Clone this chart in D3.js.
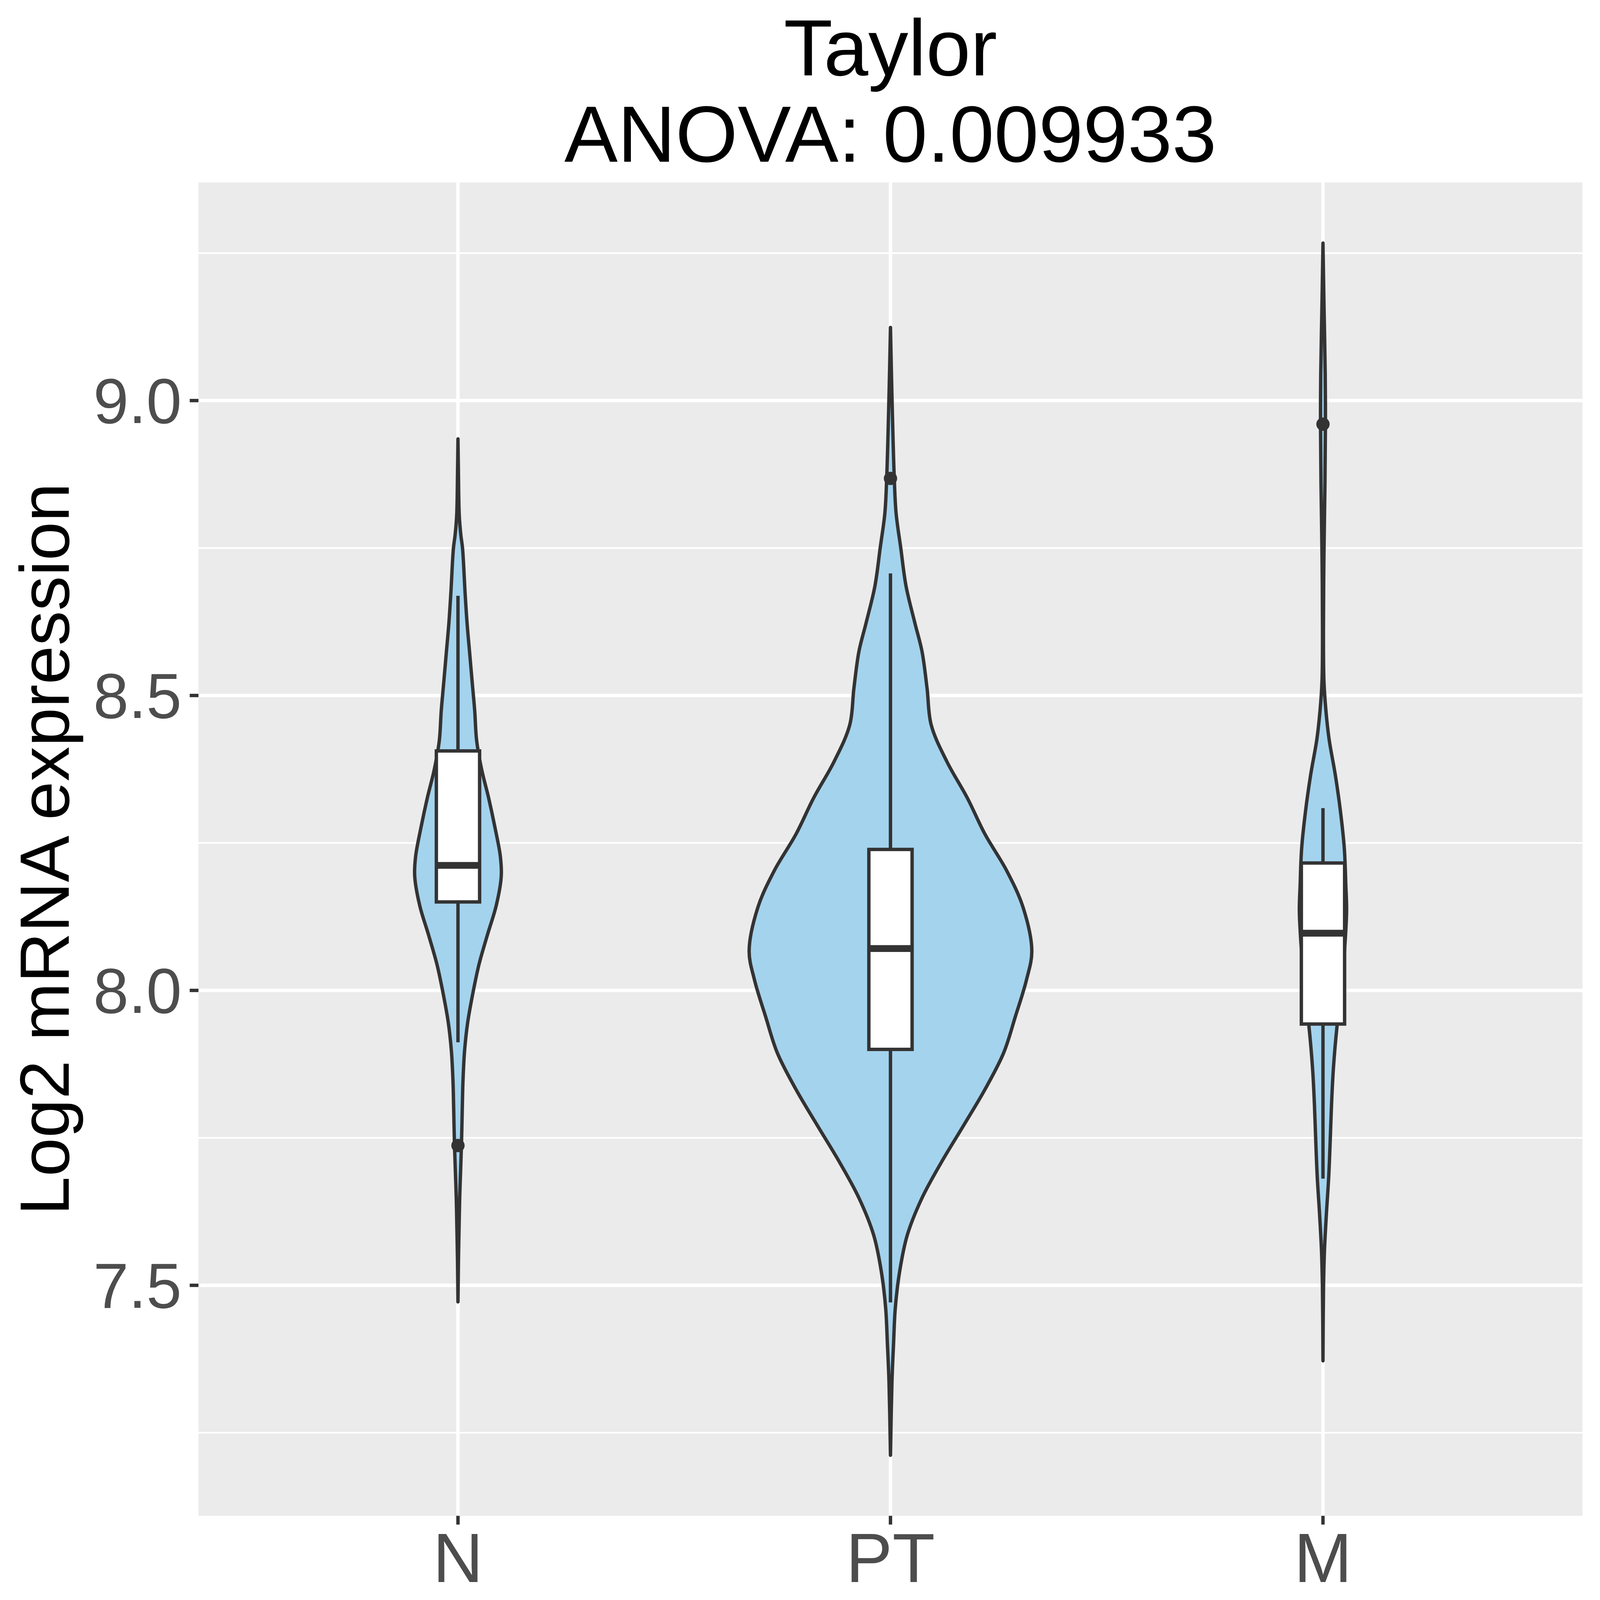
<!DOCTYPE html>
<html>
<head>
<meta charset="utf-8">
<script src="https://cdn.jsdelivr.net/npm/d3@7.9.0/dist/d3.min.js"></script>
<style>
  html, body { margin: 0; padding: 0; background: #fff; overflow: hidden; }
  svg { display: block; width: 100vw; height: 100vh; }
  text { font-family: "Liberation Sans", Arial, Helvetica, sans-serif; }
</style>
</head>
<body>
<svg id="chart" viewBox="0 0 4200 4200" preserveAspectRatio="xMidYMid meet"></svg>
<script>
// groups on the x axis
const categories = ['N', 'PT', 'M'];

// violin outlines: expression level and half width (in category units)
const nLevels  = [8.935, 8.88, 8.805, 8.771, 8.75, 8.672, 8.622, 8.573, 8.523, 8.474, 8.424, 8.375, 8.326, 8.276, 8.227, 8.193, 8.144, 8.094, 8.045, 8.0, 7.946, 7.897, 7.847, 7.798, 7.748, 7.699, 7.649, 7.6, 7.55, 7.472];
const nWidths  = [0, 0.0010, 0.0030, 0.0068, 0.0105, 0.0166, 0.0211, 0.0269, 0.0328, 0.0387, 0.0431, 0.0546, 0.0710, 0.0856, 0.0980, 0.1000, 0.0885, 0.0680, 0.0489, 0.0357, 0.0225, 0.0152, 0.0116, 0.0099, 0.0084, 0.0063, 0.0040, 0.0026, 0.0013, 0];
const ptLevels = [9.124, 9.006, 8.868, 8.809, 8.75, 8.685, 8.623, 8.574, 8.512, 8.45, 8.388, 8.326, 8.265, 8.203, 8.141, 8.067, 8.018, 7.956, 7.894, 7.832, 7.77, 7.708, 7.647, 7.585, 7.523, 7.461, 7.399, 7.338, 7.212];
const ptWidths = [0, 0.0035, 0.0088, 0.0130, 0.0238, 0.0361, 0.0564, 0.0731, 0.0846, 0.0942, 0.1304, 0.1779, 0.2184, 0.2687, 0.3065, 0.3268, 0.3145, 0.2889, 0.2616, 0.2184, 0.1682, 0.1172, 0.0722, 0.0388, 0.0211, 0.0111, 0.0070, 0.0035, 0];
const mLevels  = [9.267, 9.168, 9.044, 8.96, 8.859, 8.735, 8.612, 8.525, 8.476, 8.426, 8.365, 8.303, 8.241, 8.179, 8.135, 8.067, 8.005, 7.943, 7.869, 7.807, 7.745, 7.683, 7.621, 7.56, 7.498, 7.372];
const mWidths  = [0, 0.0022, 0.0052, 0.0057, 0.0046, 0.0022, 0.0011, 0.0022, 0.0066, 0.0141, 0.0286, 0.0405, 0.0493, 0.0528, 0.0546, 0.0498, 0.0432, 0.0330, 0.0242, 0.0198, 0.0167, 0.0132, 0.0079, 0.0035, 0.0013, 0];

// boxplot statistics per group (N, PT, M)
const whiskerLow  = [7.912, 7.471, 7.681];
const boxLower    = [8.150, 7.900, 7.943];
const boxMedian   = [8.212, 8.071, 8.097];
const boxUpper    = [8.406, 8.239, 8.216];
const whiskerHigh = [8.669, 8.707, 8.309];
const outliers    = [[7.737], [8.868], [8.960]];

// axis ticks
const yMajor = [7.5, 8.0, 8.5, 9.0];
const yMinor = [7.25, 7.75, 8.25, 8.75, 9.25];
const yTickLabels = ['7.5', '8.0', '8.5', '9.0'];

const titleLines = ['Taylor', 'ANOVA: 0.009933'];
const yTitle = 'Log2 mRNA expression';

const violins = [
  { levels: nLevels, widths: nWidths },
  { levels: ptLevels, widths: ptWidths },
  { levels: mLevels, widths: mWidths }
];

// layout
const panel = { left: 521, right: 4154, top: 479, bottom: 3979 };
const lw = 8.9;          // ggplot linewidth 0.5 at this resolution
const ink = '#333333';
const fillBlue = '#A4D3EE';

const svg = d3.select('#chart');
svg.append('rect').attr('width', 4200).attr('height', 4200).attr('fill', '#ffffff');

const allLevels = [].concat(nLevels, ptLevels, mLevels);
const lo = d3.min(allLevels), hi = d3.max(allLevels);
const pad = (hi - lo) * 0.05;

const x = d3.scalePoint()
  .domain(categories)
  .range([panel.left, panel.right])
  .padding(0.6);

const y = d3.scaleLinear()
  .domain([lo - pad, hi + pad])
  .range([panel.bottom, panel.top]);

const step = x.step();

// panel background
svg.append('rect')
  .attr('x', panel.left).attr('y', panel.top)
  .attr('width', panel.right - panel.left)
  .attr('height', panel.bottom - panel.top)
  .attr('fill', '#EBEBEB');

const grid = svg.append('g');
grid.selectAll('.minor').data(yMinor).join('line')
  .attr('x1', panel.left).attr('x2', panel.right)
  .attr('y1', d => y(d)).attr('y2', d => y(d))
  .attr('stroke', '#fff').attr('stroke-width', lw / 2);
grid.selectAll('.majorY').data(yMajor).join('line')
  .attr('x1', panel.left).attr('x2', panel.right)
  .attr('y1', d => y(d)).attr('y2', d => y(d))
  .attr('stroke', '#fff').attr('stroke-width', lw);
grid.selectAll('.majorX').data(categories).join('line')
  .attr('x1', d => x(d)).attr('x2', d => x(d))
  .attr('y1', panel.top).attr('y2', panel.bottom)
  .attr('stroke', '#fff').attr('stroke-width', lw);

// violins
const plot = svg.append('g');
categories.forEach((cat, i) => {
  const v = violins[i];
  const pts = v.levels.map((lev, j) => ({ lev, w: v.widths[j] }));
  const cx = x(cat);
  const area = d3.area()
    .curve(d3.curveCatmullRom.alpha(0.5))
    .y(d => y(d.lev))
    .x0(d => cx - d.w * step)
    .x1(d => cx + d.w * step);
  plot.append('path')
    .attr('d', area(pts))
    .attr('fill', fillBlue)
    .attr('stroke', ink)
    .attr('stroke-width', lw)
    .attr('stroke-linejoin', 'round');
});

// boxplots
const boxHalf = 0.05 * step;
categories.forEach((cat, i) => {
  const cx = x(cat);
  const g = plot.append('g');
  g.append('line')
    .attr('x1', cx).attr('x2', cx)
    .attr('y1', y(whiskerHigh[i])).attr('y2', y(boxUpper[i]))
    .attr('stroke', ink).attr('stroke-width', lw);
  g.append('line')
    .attr('x1', cx).attr('x2', cx)
    .attr('y1', y(boxLower[i])).attr('y2', y(whiskerLow[i]))
    .attr('stroke', ink).attr('stroke-width', lw);
  g.append('rect')
    .attr('x', cx - boxHalf)
    .attr('y', y(boxUpper[i]))
    .attr('width', boxHalf * 2)
    .attr('height', y(boxLower[i]) - y(boxUpper[i]))
    .attr('fill', '#ffffff')
    .attr('stroke', ink).attr('stroke-width', lw);
  g.append('line')
    .attr('x1', cx - boxHalf).attr('x2', cx + boxHalf)
    .attr('y1', y(boxMedian[i])).attr('y2', y(boxMedian[i]))
    .attr('stroke', ink).attr('stroke-width', lw * 2);
  g.selectAll('circle').data(outliers[i]).join('circle')
    .attr('cx', cx).attr('cy', d => y(d))
    .attr('r', 17.5)
    .attr('fill', ink);
});

// axes
const axes = svg.append('g');
axes.selectAll('.ytick').data(yMajor).join('line')
  .attr('x1', panel.left - 23).attr('x2', panel.left)
  .attr('y1', d => y(d)).attr('y2', d => y(d))
  .attr('stroke', ink).attr('stroke-width', lw);
axes.selectAll('.ylab').data(yMajor).join('text')
  .attr('x', panel.left - 44)
  .attr('y', d => y(d) + 59)
  .attr('text-anchor', 'end')
  .attr('font-size', 167)
  .attr('fill', '#4D4D4D')
  .text((d, i) => yTickLabels[i]);

axes.selectAll('.xtick').data(categories).join('line')
  .attr('x1', d => x(d)).attr('x2', d => x(d))
  .attr('y1', panel.bottom).attr('y2', panel.bottom + 23)
  .attr('stroke', ink).attr('stroke-width', lw);
axes.selectAll('.xlab').data(categories).join('text')
  .attr('x', d => x(d))
  .attr('y', panel.bottom + 174)
  .attr('text-anchor', 'middle')
  .attr('font-size', 183)
  .attr('fill', '#4D4D4D')
  .text(d => d);

// axis title
svg.append('text')
  .attr('transform', `translate(180, ${(panel.top + panel.bottom) / 2}) rotate(-90)`)
  .attr('text-anchor', 'middle')
  .attr('font-size', 183)
  .attr('fill', '#000')
  .text(yTitle);

// plot title
const cxPanel = (panel.left + panel.right) / 2;
svg.selectAll('.title').data(titleLines).join('text')
  .attr('x', cxPanel)
  .attr('y', (d, i) => 198 + i * 226)
  .attr('text-anchor', 'middle')
  .attr('font-size', 210)
  .attr('fill', '#000')
  .text(d => d);
</script>
</body>
</html>
